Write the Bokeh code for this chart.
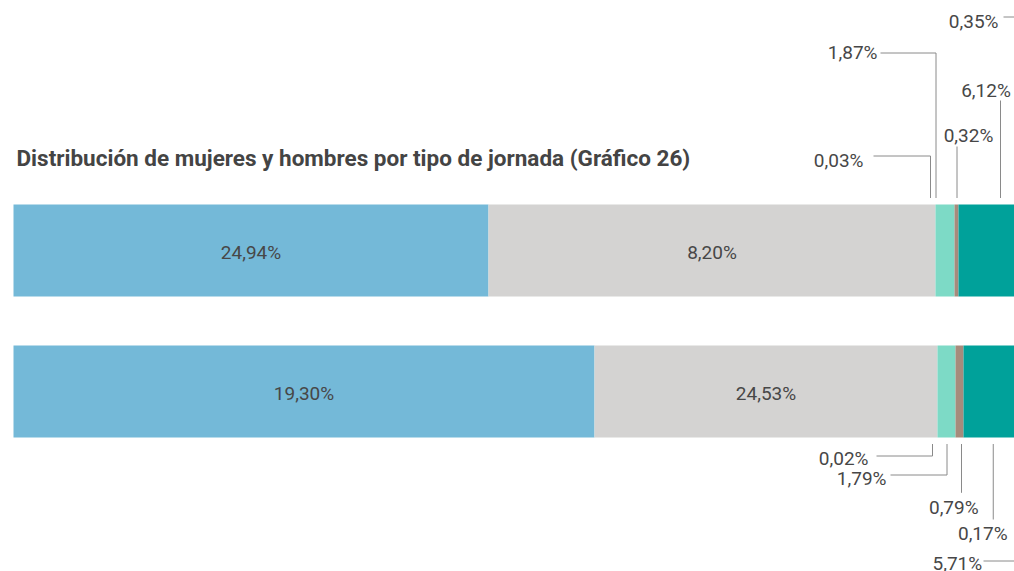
from bokeh.plotting import figure
from bokeh.models import Range1d, ColumnDataSource
from bokeh.core.properties import value
from bokeh.embed import file_html
from bokeh.resources import INLINE

# ---------------- data ----------------
title_text = "Distribución de mujeres y hombres por tipo de jornada (Gráfico 26)"
rows = ["Mujeres", "Hombres"]            # top bar, bottom bar
segments = ["s1", "s2", "s3", "s4", "s5", "s6", "s7"]
segment_colors = ["#74B9D8", "#D4D3D2", "#8C8C8C", "#7DDAC6", "#A68B7C", "#00A19A", "#C9E8E4"]

# segment lengths as drawn (share of the bar track)
top_shares = [47.5, 44.7, 0.0, 1.9, 0.4, 8.4, 0.6]
bottom_shares = [58.1, 34.3, 0.0, 1.8, 0.8, 5.85, 0.6]

top_labels = ["24,94%", "8,20%", "0,03%", "1,87%", "0,32%", "6,12%", "0,35%"]
bottom_labels = ["19,30%", "24,53%", "0,02%", "1,79%", "0,79%", "0,17%", "5,71%"]

# ---------------- layout helpers (page pixels -> data) ----------------
PX_PER_X = 10.0
ROW_PX = 141.0
X0_PX = 13.0        # page x where bars start
Y_BOTTOM_ROW_PX = 391.0
W, H = 1014, 571


def X(px):
    return (px - X0_PX) / PX_PER_X


def Y(py):
    return (Y_BOTTOM_ROW_PX - py) / ROW_PX


BAR_H_PX = 92.0
bar_h = BAR_H_PX / ROW_PX
row_y = {0: Y(Y_BOTTOM_ROW_PX - ROW_PX), 1: Y(Y_BOTTOM_ROW_PX)}

TEXT_COLOR = "#474747"
LINE_COLOR = "#8A8A8A"
FONT = "Roboto"
FS = "19px"
TXT_DY = -0.5   # baseline tweak (px)

p = figure(width=W, height=H, output_backend="svg", toolbar_location=None,
           x_range=Range1d(X(0), X(W)), y_range=Range1d(Y(H), Y(0)),
           min_border=0, outline_line_color=None, background_fill_color="white",
           border_fill_color="white")
p.axis.visible = False
p.xgrid.visible = False
p.ygrid.visible = False

# ---------------- bars ----------------
share_rows = [top_shares, bottom_shares]
label_rows = [top_labels, bottom_labels]
bar = dict(y=[], left=[], right=[], color=[], label=[], row=[], seg=[])
for r, shares in enumerate(share_rows):
    acc = 0.0
    for i, w in enumerate(shares):
        bar["y"].append(row_y[r])
        bar["left"].append(acc)
        bar["right"].append(acc + w)
        bar["color"].append(segment_colors[i])
        bar["label"].append(label_rows[r][i])
        bar["row"].append(rows[r])
        bar["seg"].append(segments[i])
        acc += w
src = ColumnDataSource(bar)
p.hbar(y="y", left="left", right="right", height=bar_h, fill_color="color",
       line_color=None, source=src)

# inner labels for the two large segments
inner = dict(x=[], y=[], t=[])
for k in range(len(bar["y"])):
    if bar["seg"][k] in ("s1", "s2"):
        inner["x"].append((bar["left"][k] + bar["right"][k]) / 2)
        inner["y"].append(bar["y"][k] - (2.5 + TXT_DY) / ROW_PX)
        inner["t"].append(bar["label"][k])
p.text(x="x", y="y", text="t", source=ColumnDataSource(inner), text_align="center",
       text_baseline="middle", text_font=value(FONT), text_font_size=FS,
       text_color=TEXT_COLOR)

# ---------------- outer labels with leader lines ----------------
# (row, segment index, kind, text x px, text y px, align, line end y px, line start x px, anchor dx px)
callouts = [
    (0, 2, "elbow", 863, 160, "right", 155.5, 873, -5),
    (0, 3, "elbow", 877, 52.5, "right", 52.5, 880, -9),
    (0, 4, "vert", 968, 135, "center", 146, None, 0.5),
    (0, 5, "vert", 985.5, 90, "center", 100, None, 0),
    (0, 6, "elbow", 998, 21, "right", 16.5, 1003, 0),
    (1, 2, "elbow", 868, 458, "right", 455.5, 876, -5),
    (1, 3, "elbow", 886, 478.5, "right", 474.5, 890, 0.5),
    (1, 4, "vert", 953.3, 507, "center", 492.3, None, 2),
    (1, 5, "vert", 982.3, 533.7, "center", 519, None, 0.5),
    (1, 6, "elbow", 981.7, 563, "right", 560.5, 983, 0),
]
GAP = 6.5 / ROW_PX
xs, ys = [], []
lab = {"right": dict(x=[], y=[], t=[]), "center": dict(x=[], y=[], t=[])}
n_seg = len(segments)
for (r, i, kind, tx, ty, align, ly, lx0, dx) in callouts:
    k = r * n_seg + i
    ax = (bar["left"][k] + bar["right"][k]) / 2 + dx / PX_PER_X
    if r == 0:
        y_bar = row_y[r] + bar_h / 2 + GAP
    else:
        y_bar = row_y[r] - bar_h / 2 - GAP
    if kind == "elbow":
        xs.append([X(lx0), ax, ax])
        ys.append([Y(ly), Y(ly), y_bar])
    else:
        xs.append([ax, ax])
        ys.append([Y(ly), y_bar])
    lab[align]["x"].append(X(tx))
    lab[align]["y"].append(Y(ty + TXT_DY))
    lab[align]["t"].append(label_rows[r][i])

p.multi_line(xs=xs, ys=ys, line_color=LINE_COLOR, line_width=1)
for align, d in lab.items():
    p.text(x="x", y="y", text="t", source=ColumnDataSource(d), text_align=align,
           text_baseline="middle", text_font=value(FONT), text_font_size=FS,
           text_color=TEXT_COLOR)

# ---------------- title ----------------
p.text(x=[X(16)], y=[Y(157.5)], text=[title_text], text_align="left",
       text_baseline="middle", text_font=value(FONT), text_font_size="22.5px",
       text_font_style="bold", text_color="#444444")

open("out.html", "w").write(file_html(p, INLINE))
